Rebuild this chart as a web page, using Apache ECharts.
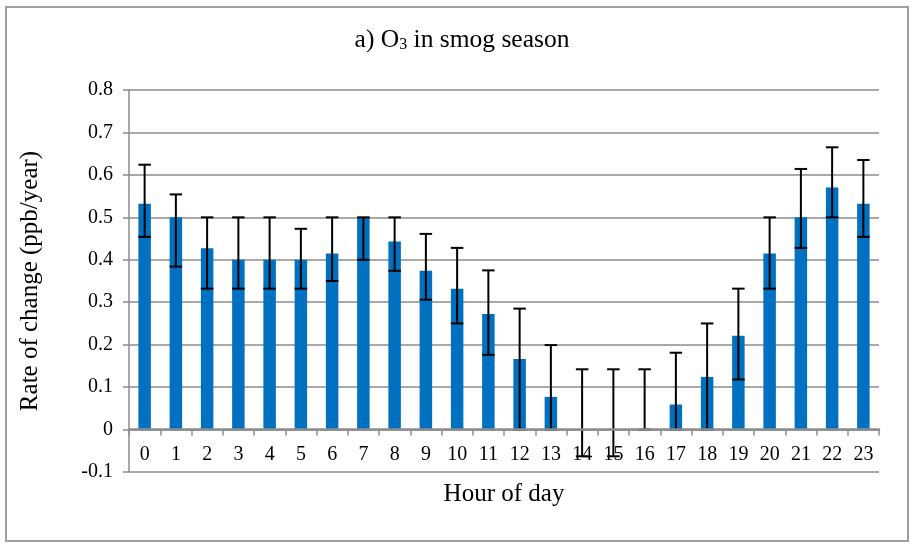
<!DOCTYPE html>
<html>
<head>
<meta charset="utf-8">
<script src="https://cdn.jsdelivr.net/npm/echarts@6/dist/echarts.min.js"></script>
<style>html,body{margin:0;padding:0;background:#fff;}#c{width:912px;height:545px;}</style>
</head>
<body>
<div id="c"></div>
<script>
const hours = ['0','1','2','3','4','5','6','7','8','9','10','11','12','13','14','15','16','17','18','19','20','21','22','23'];
const rate = [0.532,0.5,0.427,0.4,0.4,0.4,0.415,0.5,0.443,0.374,0.332,0.272,0.166,0.077,0,0,0,0.059,0.124,0.221,0.415,0.5,0.57,0.532];
const errUpper = [0.624,0.554,0.5,0.5,0.5,0.473,0.5,0.5,0.5,0.461,0.428,0.375,0.285,0.199,0.142,0.142,0.142,0.181,0.25,0.332,0.5,0.614,0.665,0.635];
const errLower = [0.454,0.384,0.332,0.332,0.332,0.332,0.35,0.4,0.374,0.306,0.25,0.176,0,0,-0.063,-0.063,0,0,0,0.118,0.332,0.428,0.5,0.454];
const yTicks = {min: -0.1, max: 0.8, interval: 0.1};

const FONT = '"Liberation Serif", "Times New Roman", serif';
const GRAY = '#8c8c8c';
const chart = echarts.init(document.getElementById('c'));
const errData = hours.map((h, i) => [i, errLower[i], errUpper[i]]);

chart.setOption({
  animation: false,
  backgroundColor: '#fff',
  graphic: [{
    type: 'rect', shape: {x: 6, y: 7, width: 902, height: 534},
    style: {fill: 'none', stroke: '#a0a0a0', lineWidth: 2}, silent: true, z: -1
  }],
  title: {
    text: 'a) O{sub|3} in smog season',
    left: 457, top: 22, textAlign: 'center',
    textStyle: {
      fontFamily: FONT, fontSize: 25.5, fontWeight: 'normal', color: '#000',
      rich: {sub: {fontFamily: FONT, fontSize: 16, color: '#000', verticalAlign: 'bottom', padding: [10, 0, 0, 0]}}
    }
  },
  grid: {left: 129, right: 33, top: 90, bottom: 73, outerBoundsMode: 'none'},
  xAxis: {
    type: 'category', data: hours, z: 5,
    axisLine: {onZero: true, lineStyle: {color: GRAY, width: 2.5}},
    axisTick: {show: true, length: 6, lineStyle: {color: GRAY, width: 1.5}},
    axisLabel: {fontFamily: FONT, fontSize: 20, color: '#000', margin: -27},
    name: 'Hour of day', nameLocation: 'middle', nameGap: 10,
    nameTextStyle: {fontFamily: FONT, fontSize: 25, color: '#000'}
  },
  yAxis: {
    type: 'value', min: yTicks.min, max: yTicks.max, interval: yTicks.interval,
    axisLine: {show: true, lineStyle: {color: GRAY, width: 1.5}},
    axisTick: {show: true, length: 6, lineStyle: {color: GRAY, width: 1.5}},
    splitLine: {show: true, lineStyle: {color: GRAY, width: 1.5}},
    axisLabel: {fontFamily: FONT, fontSize: 20, color: '#000', margin: 16},
    name: 'Rate of change (ppb/year)', nameLocation: 'middle', nameGap: 86,
    nameTextStyle: {fontFamily: FONT, fontSize: 25, color: '#000'}
  },
  series: [{
    type: 'bar', data: rate, barWidth: '40%',
    itemStyle: {color: '#0070C0'}, z: 2
  }, {
    type: 'custom', z: 3,
    data: errData,
    renderItem: function (params, api) {
      const x = api.value(0);
      const lo = api.coord([x, api.value(1)]);
      const hi = api.coord([x, api.value(2)]);
      const hw = api.size([1, 0])[0] * 0.2;
      const st = {stroke: '#000', lineWidth: 2};
      return {
        type: 'group',
        children: [
          {type: 'line', shape: {x1: hi[0], y1: hi[1], x2: lo[0], y2: lo[1]}, style: st},
          {type: 'line', shape: {x1: hi[0] - hw, y1: hi[1], x2: hi[0] + hw, y2: hi[1]}, style: st},
          {type: 'line', shape: {x1: lo[0] - hw, y1: lo[1], x2: lo[0] + hw, y2: lo[1]}, style: st}
        ]
      };
    }
  }]
});
</script>
</body>
</html>
